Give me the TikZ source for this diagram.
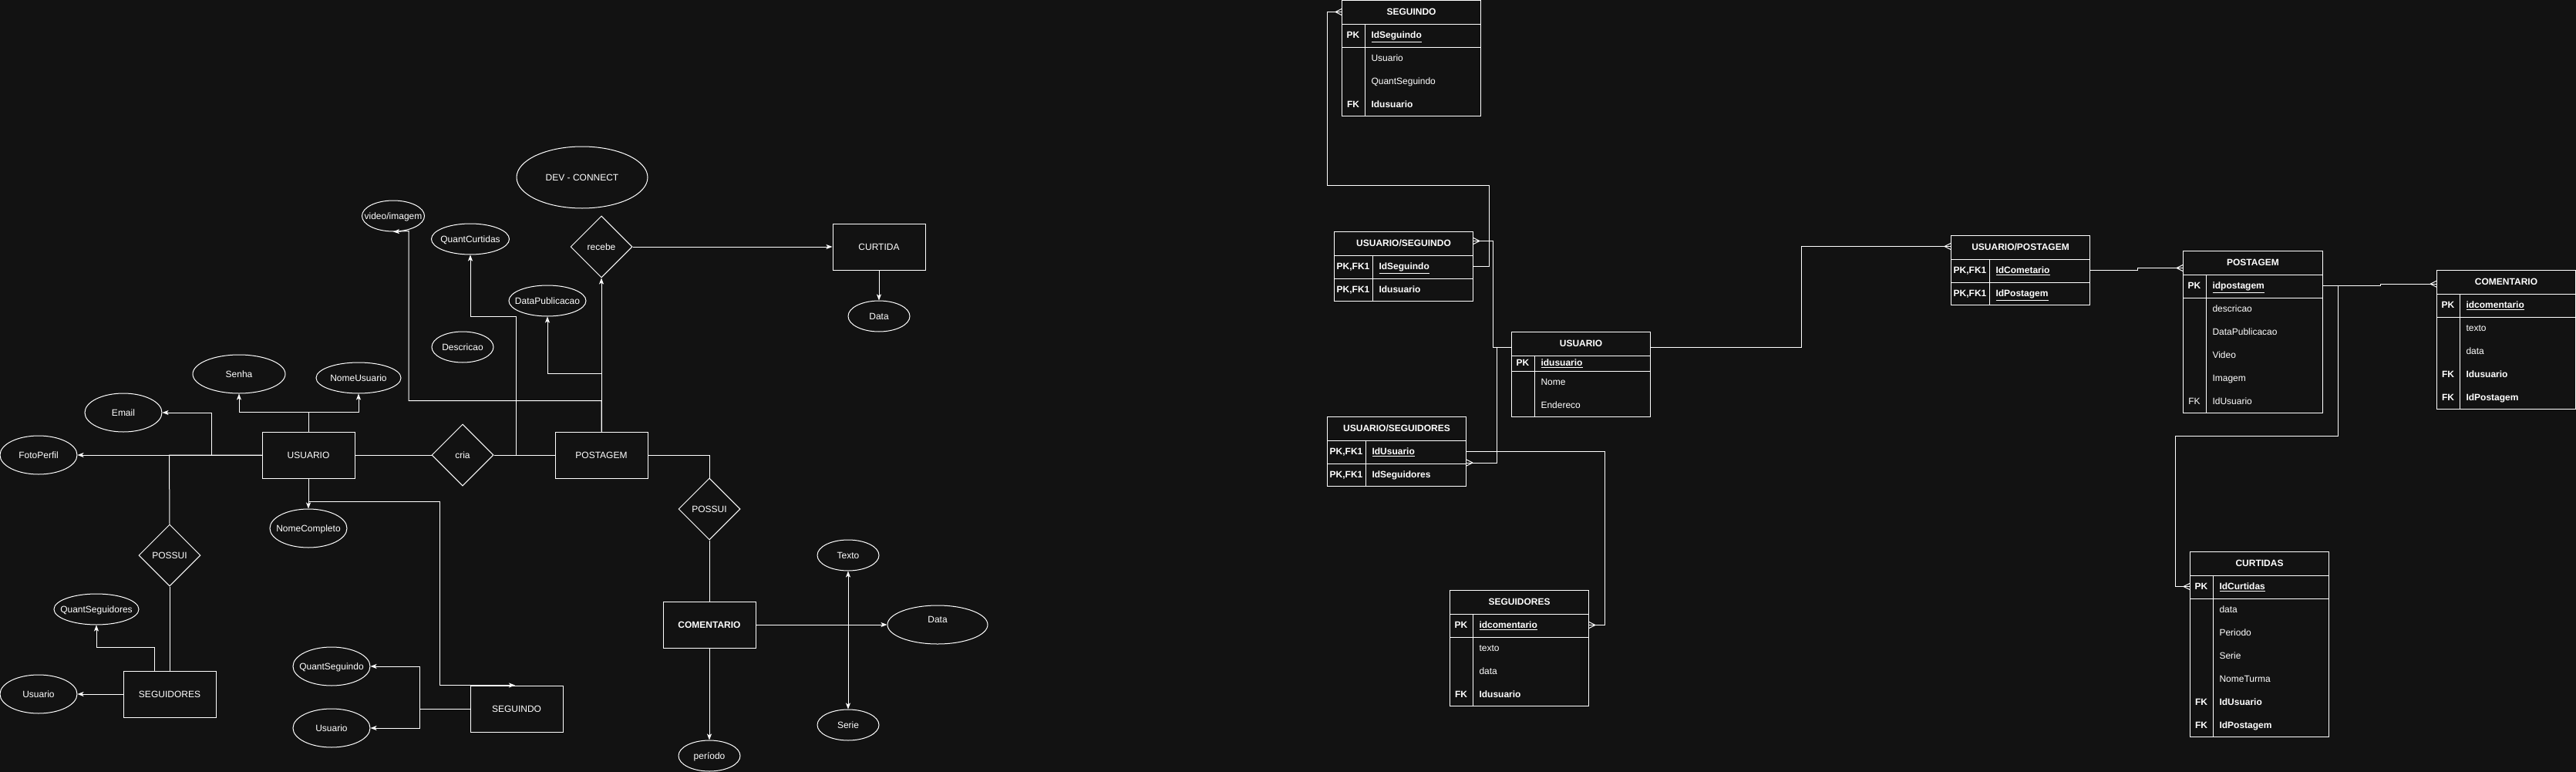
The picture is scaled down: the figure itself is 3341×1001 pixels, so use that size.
\documentclass[tikz,border=0pt]{standalone}
\usepackage{fontspec}
\setmainfont{Liberation Sans}
\usetikzlibrary{shapes.geometric,arrows.meta,calc}
\definecolor{bgc}{HTML}{121212}
\newcommand\efs{\fontsize{12pt}{14pt}\selectfont}
% ellipse attribute: name, x, y, w, h, text
\newcommand\attrE[6]{%
  \node[attr, minimum width=#4pt, minimum height=#5pt] (#1) at (#2,#3) {};
  \node[lbl] (#1-t) at (#1) {#6};}
% table frame: name, x, y, W, H, keycol, title
\newcommand\etable[7]{%
  \node[tbox, minimum width=#4pt, minimum height=#5pt, anchor=north west] (#1) at (#2,#3) {};
  \node[thead, minimum width=#4pt, anchor=north west] (#1-h) at (#2,#3) {#7};
  \draw (#1-h.south west) -- (#1-h.south east);
  \draw ([xshift=#6pt]#1-h.south west) -- ([xshift=#6pt]#1.south west);}
% table row: name, x, y, W, h, keycol, key, field
\newcommand\erow[8]{%
  \node[rowbox, minimum width=#4pt, minimum height=#5pt, anchor=north west] (#1) at (#2,#3) {};
  \node[keyt] (#1-k) at ([xshift=#6pt/2]#1.west) {#7};
  \node[fldt] (#1-f) at ([xshift=#6pt+8pt]#1.west) {#8};}
\newcommand\crowR[1]{\draw ([xshift=-8pt]#1) -- ([yshift=4pt]#1) ([xshift=-8pt]#1) -- ([yshift=-4pt]#1);}
\newcommand\crowL[1]{\draw ([xshift=8pt]#1) -- ([yshift=4pt]#1) ([xshift=8pt]#1) -- ([yshift=-4pt]#1);}

\begin{document}
\begin{tikzpicture}[x=1pt, y=-1pt, color=white, line width=1pt,
  every node/.style={font=\efs},
  ent/.style={draw, fill=bgc, rectangle, minimum width=120pt, minimum height=60pt, inner sep=0pt, text height=8.6pt, text depth=0pt},
  rel/.style={draw, fill=bgc, diamond, minimum width=80pt, minimum height=80pt, inner sep=0pt, text height=8.6pt, text depth=0pt},
  attr/.style={draw, fill=bgc, ellipse, inner sep=0pt},
  lbl/.style={inner sep=0pt, text height=8.6pt, text depth=0pt},
  tbox/.style={draw, fill=bgc, rectangle, inner sep=0pt},
  thead/.style={rectangle, minimum height=30pt, inner sep=0pt, font=\efs\bfseries, text height=8.6pt, text depth=0pt},
  rowbox/.style={rectangle, inner sep=0pt},
  keyt/.style={inner sep=0pt, text height=8.6pt, text depth=0pt},
  fldt/.style={inner sep=0pt, anchor=west, text height=8.6pt, text depth=0pt},
  arr/.style={-{Stealth[length=8pt,width=6pt,inset=2pt]}},
  arrb/.style={{Stealth[length=8pt,width=6pt,inset=2pt]}-{Stealth[length=8pt,width=6pt,inset=2pt]}}]

\fill[bgc] (0,0) rectangle (3341,1001);
\useasboundingbox (0,0) rectangle (3341,1001);

% ---------------- conceptual ER diagram ----------------
\node[ent] (usuario) at (400,590) {USUARIO};
\node[ent] (postagem) at (780,590) {POSTAGEM};
\node[ent] (curtida) at (1140,320) {CURTIDA};
\node[ent] (seguidores) at (220,900) {SEGUIDORES};
\node[ent] (seguindo) at (670,919) {SEGUINDO};
\node[ent, font=\efs\bfseries] (comentario) at (920,810) {COMENTARIO};
\node[rel] (cria) at (600,590) {cria};
\node[rel] (recebe) at (780,320) {recebe};
\node[rel] (possui1) at (220,720) {POSSUI};
\node[rel] (possui2) at (920,660) {POSSUI};

\attrE{dev}{755}{230}{170}{80}{DEV - CONNECT}
\attrE{video}{510}{280}{81}{40}{video/imagem}
\attrE{qcurt}{610}{310}{101}{40}{QuantCurtidas}
\attrE{datapub}{710}{390}{100}{40}{DataPublicacao}
\attrE{descr}{600}{450}{80}{40}{Descricao}
\attrE{senha}{310}{485}{120}{50}{Senha}
\attrE{nomeus}{465}{490}{110}{40}{NomeUsuario}
\attrE{email}{160}{535}{100}{50}{Email}
\attrE{foto}{50}{590}{100}{50}{FotoPerfil}
\attrE{nomecomp}{400}{685}{100}{50}{NomeCompleto}
\attrE{qseguidores}{125}{790}{110}{40}{QuantSeguidores}
\attrE{usr1}{50}{900}{100}{50}{Usuario}
\attrE{qseguindo}{430}{864}{100}{50}{QuantSeguindo}
\attrE{usr2}{430}{944}{100}{50}{Usuario}
\attrE{datac}{1140}{410}{80}{40}{Data}
\attrE{texto}{1100}{720}{80}{40}{Texto}
\node[attr, minimum width=130pt, minimum height=50pt] (data2) at (1216,810) {};
\node[lbl] (data2-t) at (1216,803) {Data};
\attrE{serie}{1100}{940}{80}{40}{Serie}
\attrE{periodo}{920}{980}{80}{40}{período}

\draw[arr] (usuario.west) -- (foto.east);
\draw[arr] (usuario.west) -- ++(-65,0) |- (email.east);
\draw (usuario.west) -- ++(-120,0) -- (possui1.north);
\draw (possui1.south) -- (seguidores.north);
\draw[arr] ([xshift=-20pt]seguidores.north) -- ++(0,-30) -| (qseguidores.south);
\draw[arr] (seguidores.west) -- (usr1.east);
\draw[arr] (usuario.north) -- ++(0,-25) -| (senha.south);
\draw[arr] (usuario.north) -- ++(0,-25) -| (nomeus.south);
\draw[arr] (usuario.south) -- (nomecomp.north);
\draw[arr] (usuario.south) -- ++(0,30) -- ++(170,0) |- ([xshift=-2pt]seguindo.north);
\draw[arr] (seguindo.west) -- ++(-65,0) |- (qseguindo.east);
\draw[arr] (seguindo.west) -- ++(-65,0) |- (usr2.east);
\draw (usuario.east) -- (cria.west);
\draw (cria.east) -- (postagem.west);
\draw[arr] (postagem.west) -- ++(-50,0) -- ++(0,-180) -| (qcurt.south);
\draw[arr] (postagem.north) -- (recebe.south);
\draw[arr] (postagem.north) -- ++(0,-75) -| (datapub.south);
\draw[arr] (postagem.north) -- ++(0,-40) -- ++(-250,0) -- ++(0,-220) -- (video.south);
\draw[arr] (recebe.east) -- (curtida.west);
\draw[arr] (curtida.south) -- (datac.north);
\draw (postagem.east) -| (possui2.north);
\draw (possui2.south) -- (comentario.north);
\draw[arr] (comentario.south) -- (periodo.north);
\draw[arr] (comentario.east) -- (data2.west);
\draw[arrb] (texto.south) -- (serie.north);

% ---------------- logical tables ----------------
\etable{tSeg}{1740}{0}{180}{150}{30}{SEGUINDO}
\erow{tSeg-r1}{1740}{30}{180}{30}{30}{\textbf{PK}}{\textbf{\underline{IdSeguindo}}}
\erow{tSeg-r2}{1740}{60}{180}{30}{30}{}{Usuario}
\erow{tSeg-r3}{1740}{90}{180}{30}{30}{}{QuantSeguindo}
\erow{tSeg-r4}{1740}{120}{180}{30}{30}{\textbf{FK}}{\textbf{Idusuario}}
\draw (tSeg-r1.south west) -- (tSeg-r1.south east);

\etable{tUS}{1730}{300}{180}{90}{50}{USUARIO/SEGUINDO}
\erow{tUS-r1}{1730}{330}{180}{30}{50}{\textbf{PK,FK1}}{\textbf{\underline{IdSeguindo}}}
\erow{tUS-r2}{1730}{360}{180}{30}{50}{\textbf{PK,FK1}}{\textbf{Idusuario}}
\draw (tUS-r1.south west) -- (tUS-r1.south east);

\etable{tUsu}{1960}{430}{180}{110}{30}{USUARIO}
\erow{tUsu-r1}{1960}{460}{180}{20}{30}{\textbf{PK}}{\textbf{\underline{idusuario}}}
\erow{tUsu-r2}{1960}{480}{180}{30}{30}{}{Nome}
\erow{tUsu-r3}{1960}{510}{180}{30}{30}{}{Endereco}
\draw (tUsu-r1.south west) -- (tUsu-r1.south east);

\etable{tUSg}{1721}{540}{180}{90}{50}{USUARIO/SEGUIDORES}
\erow{tUSg-r1}{1721}{570}{180}{30}{50}{\textbf{PK,FK1}}{\textbf{\underline{IdUsuario}}}
\erow{tUSg-r2}{1721}{600}{180}{30}{50}{\textbf{PK,FK1}}{\textbf{IdSeguidores}}
\draw (tUSg-r1.south west) -- (tUSg-r1.south east);

\etable{tSgd}{1880}{765}{180}{150}{30}{SEGUIDORES}
\erow{tSgd-r1}{1880}{795}{180}{30}{30}{\textbf{PK}}{\textbf{\underline{idcomentario}}}
\erow{tSgd-r2}{1880}{825}{180}{30}{30}{}{texto}
\erow{tSgd-r3}{1880}{855}{180}{30}{30}{}{data}
\erow{tSgd-r4}{1880}{885}{180}{30}{30}{\textbf{FK}}{\textbf{Idusuario}}
\draw (tSgd-r1.south west) -- (tSgd-r1.south east);

\etable{tUP}{2530}{305}{180}{90}{50}{USUARIO/POSTAGEM}
\erow{tUP-r1}{2530}{335}{180}{30}{50}{\textbf{PK,FK1}}{\textbf{\underline{IdCometario}}}
\erow{tUP-r2}{2530}{365}{180}{30}{50}{\textbf{PK,FK1}}{\textbf{\underline{IdPostagem}}}
\draw (tUP-r1.south west) -- (tUP-r1.south east);

\etable{tPost}{2831}{325}{181}{210}{30}{POSTAGEM}
\erow{tPost-r1}{2831}{355}{181}{30}{30}{\textbf{PK}}{\textbf{\underline{idpostagem}}}
\erow{tPost-r2}{2831}{385}{181}{30}{30}{}{descricao}
\erow{tPost-r3}{2831}{415}{181}{30}{30}{}{DataPublicacao}
\erow{tPost-r4}{2831}{445}{181}{30}{30}{}{Video}
\erow{tPost-r5}{2831}{475}{181}{30}{30}{}{Imagem}
\erow{tPost-r6}{2831}{505}{181}{30}{30}{FK}{IdUsuario}
\draw (tPost-r1.south west) -- (tPost-r1.south east);

\etable{tCom}{3160}{350}{180}{180}{30}{COMENTARIO}
\erow{tCom-r1}{3160}{380}{180}{30}{30}{\textbf{PK}}{\textbf{\underline{idcomentario}}}
\erow{tCom-r2}{3160}{410}{180}{30}{30}{}{texto}
\erow{tCom-r3}{3160}{440}{180}{30}{30}{}{data}
\erow{tCom-r4}{3160}{470}{180}{30}{30}{\textbf{FK}}{\textbf{Idusuario}}
\erow{tCom-r5}{3160}{500}{180}{30}{30}{\textbf{FK}}{\textbf{IdPostagem}}
\draw (tCom-r1.south west) -- (tCom-r1.south east);

\etable{tCurt}{2840}{715}{180}{240}{30}{CURTIDAS}
\erow{tCurt-r1}{2840}{745}{180}{30}{30}{\textbf{PK}}{\textbf{\underline{IdCurtidas}}}
\erow{tCurt-r2}{2840}{775}{180}{30}{30}{}{data}
\erow{tCurt-r3}{2840}{805}{180}{30}{30}{}{Periodo}
\erow{tCurt-r4}{2840}{835}{180}{30}{30}{}{Serie}
\erow{tCurt-r5}{2840}{865}{180}{30}{30}{}{NomeTurma}
\erow{tCurt-r6}{2840}{895}{180}{30}{30}{\textbf{FK}}{\textbf{IdUsuario}}
\erow{tCurt-r7}{2840}{925}{180}{30}{30}{\textbf{FK}}{\textbf{IdPostagem}}
\draw (tCurt-r1.south west) -- (tCurt-r1.south east);

% ---------------- relationship lines ----------------
\coordinate (p2) at ([yshift=3pt]tUS-h.east);
\coordinate (u5) at ([yshift=-5pt]tUsu-h.west);
\coordinate (u6) at ([yshift=-5pt]tUsu-h.east);
\coordinate (p3) at ([yshift=1pt]tUSg-r1.south east);
\coordinate (p5) at ([yshift=1pt]tUP-h.west);
\coordinate (p6) at ([yshift=-7pt]tPost-h.west);
\coordinate (p7) at ([yshift=-2.7pt]tCom-h.west);

\draw (tUS-r1.east) -- ++(20,0) -- ++(0,-105) -- ++(-210,0) |- (tSeg-h.west);
\crowR{tSeg-h.west}
\draw (p2) -- ++(25,0) |- (u5);
\crowL{p2}
\draw (u5) -- ++(-19,0) |- (p3);
\crowL{p3}
\draw (tUSg-r1.east) -- ++(179,0) |- (tSgd-r1.east);
\crowL{tSgd-r1.east}
\draw (u6) -- ++(195,0) |- (p5);
\crowR{p5}
\draw (tUP-r1.east) -- ++(61,0) -- ++(0,-3) -- (p6);
\crowR{p6}
\draw (tPost-r1.east) -- ++(74,0) -- ++(0,-2.3) -- (p7);
\crowR{p7}
\draw (tPost-r1.east) -- ++(19.6,0) -- ++(0,195) -- ++(-211.6,0) |- (tCurt-r1.west);
\crowR{tCurt-r1.west}
\end{tikzpicture}
\end{document}
